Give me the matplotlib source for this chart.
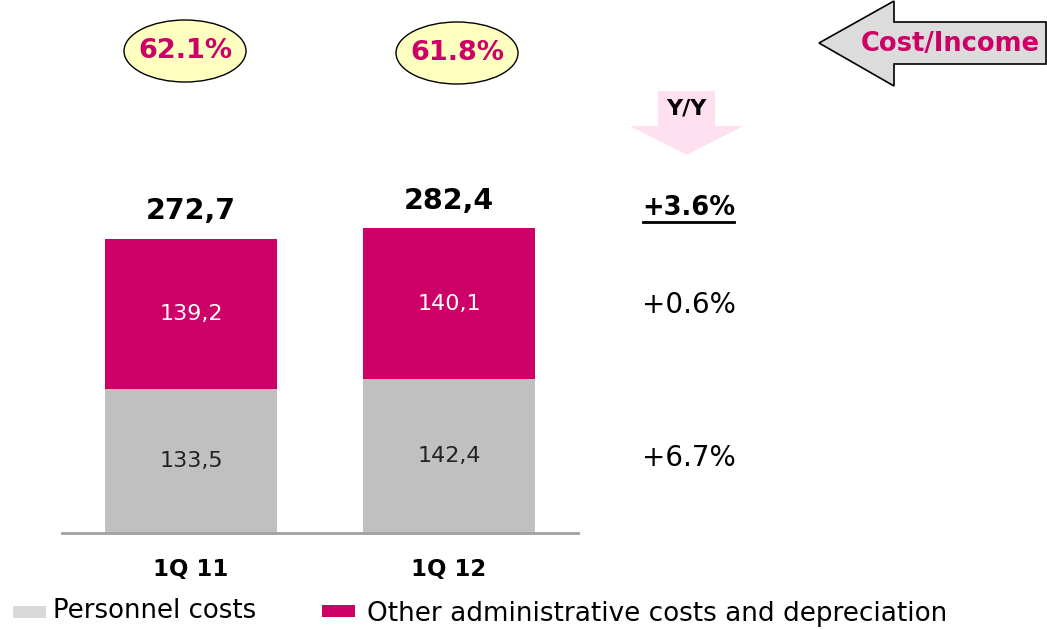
"""
Cost structure chart: personnel vs other administrative costs, 1Q 11 vs 1Q 12
"""
import matplotlib
matplotlib.use('Agg')
import matplotlib.pyplot as plt
from matplotlib.patches import Ellipse, Polygon, Rectangle

# Data
periods = ['1Q 11', '1Q 12']
personnel = [133.5, 142.4]
other_admin = [139.2, 140.1]
totals = [272.7, 282.4]
cost_income = ['62.1%', '61.8%']
yoy_labels = ['+3.6%', '+0.6%', '+6.7%']

MAGENTA = '#cc0066'
GREY_BAR = '#c0c0c0'

W, H = 1047, 630


def fx(px):
    return px / W


def fy(py):
    return 1 - py / H


def fig_poly(fig, pts, **kw):
    poly = Polygon([(fx(x), fy(y)) for x, y in pts], closed=True,
                   transform=fig.transFigure, **kw)
    fig.patches.append(poly)


def main():
    plt.rcParams['font.family'] = ['DejaVu Sans']
    fig = plt.figure(figsize=(W / 100, H / 100), dpi=100)
    fig.patch.set_facecolor('white')

    # axes: baseline at y=533px, x range 62..578px
    ax = fig.add_axes([fx(62), fy(533), fx(578) - fx(62), 533 / H])
    xs = list(range(len(periods)))
    ax.bar(xs, personnel, width=0.667, color=GREY_BAR)
    ax.bar(xs, other_admin, width=0.667, bottom=personnel, color=MAGENTA)
    ax.set_xlim(-0.5, 1.5)
    ax.set_ylim(0, 494.4)

    for x, p, o, t in zip(xs, personnel, other_admin, totals):
        ax.text(x, p / 2, f'{p:.1f}'.replace('.', ','), ha='center', va='center',
                fontsize=16, color='#222222')
        ax.text(x, p + o / 2, f'{o:.1f}'.replace('.', ','), ha='center', va='center',
                fontsize=16, color='white')
        ax.annotate(f'{t:.1f}'.replace('.', ','), (x, t), xytext=(0, 20),
                    textcoords='offset points', ha='center', va='center',
                    fontsize=20.5, fontweight='bold', color='black')

    ax.set_xticks(xs)
    ax.set_xticklabels(periods, fontsize=16.5, fontweight='bold')
    ax.tick_params(axis='x', length=0, pad=18)
    ax.set_yticks([])
    for s in ['top', 'right', 'left']:
        ax.spines[s].set_visible(False)
    ax.spines['bottom'].set_color('#a0a0a0')
    ax.spines['bottom'].set_linewidth(2)

    # Cost/income ellipses
    for cx, cy, lab in zip([185, 457], [51, 53], cost_income):
        e = Ellipse((fx(cx), fy(cy)), 122 / W, 62 / H, transform=fig.transFigure,
                    facecolor='#ffffc0', edgecolor='black', linewidth=1)
        fig.patches.append(e)
        fig.text(fx(cx), fy(cy), lab, ha='center', va='center', fontsize=19.5,
                 fontweight='bold', color=MAGENTA)

    # Cost/Income arrow
    fig_poly(fig, [(819, 43), (894, 1), (894, 22), (1046, 22), (1046, 64),
                   (894, 64), (894, 86)],
             facecolor='#dcdcdc', edgecolor='black', linewidth=1.2)
    fig.text(fx(950), fy(44), 'Cost/Income', ha='center', va='center',
             fontsize=18.5, fontweight='bold', color=MAGENTA)

    # Y/Y arrow
    fig_poly(fig, [(658, 91), (715, 91), (715, 126), (743, 126), (687, 155),
                   (630, 126), (658, 126)],
             facecolor='#ffe0f0', edgecolor='none')
    fig.text(fx(686), fy(108), 'Y/Y', ha='center', va='center', fontsize=16,
             fontweight='bold', color='black')

    # Y/Y growth column
    for lab, py, bold in zip(yoy_labels, [208, 305, 458], [True, False, False]):
        fig.text(fx(689), fy(py), lab, ha='center', va='center',
                 fontsize=18.5 if bold else 20,
                 fontweight='bold' if bold else 'normal', color='black')
    fig.add_artist(plt.Line2D([fx(643), fx(734)], [fy(222), fy(222)],
                              transform=fig.transFigure, color='black', linewidth=2))

    # Legend
    fig.patches.append(Rectangle((fx(13), fy(618)), 33 / W, 12 / H,
                                 transform=fig.transFigure, facecolor='#d9d9d9',
                                 edgecolor='none'))
    fig.text(fx(53), fy(611), 'Personnel costs', ha='left', va='center',
             fontsize=18.7, color='black')
    fig.patches.append(Rectangle((fx(322), fy(617)), 33 / W, 12 / H,
                                 transform=fig.transFigure, facecolor=MAGENTA,
                                 edgecolor='none'))
    fig.text(fx(367), fy(614), 'Other administrative costs and depreciation',
             ha='left', va='center', fontsize=18.9, color='black')

    fig.savefig('out.png', dpi=100, facecolor='white')
    plt.close(fig)


if __name__ == '__main__':
    main()
